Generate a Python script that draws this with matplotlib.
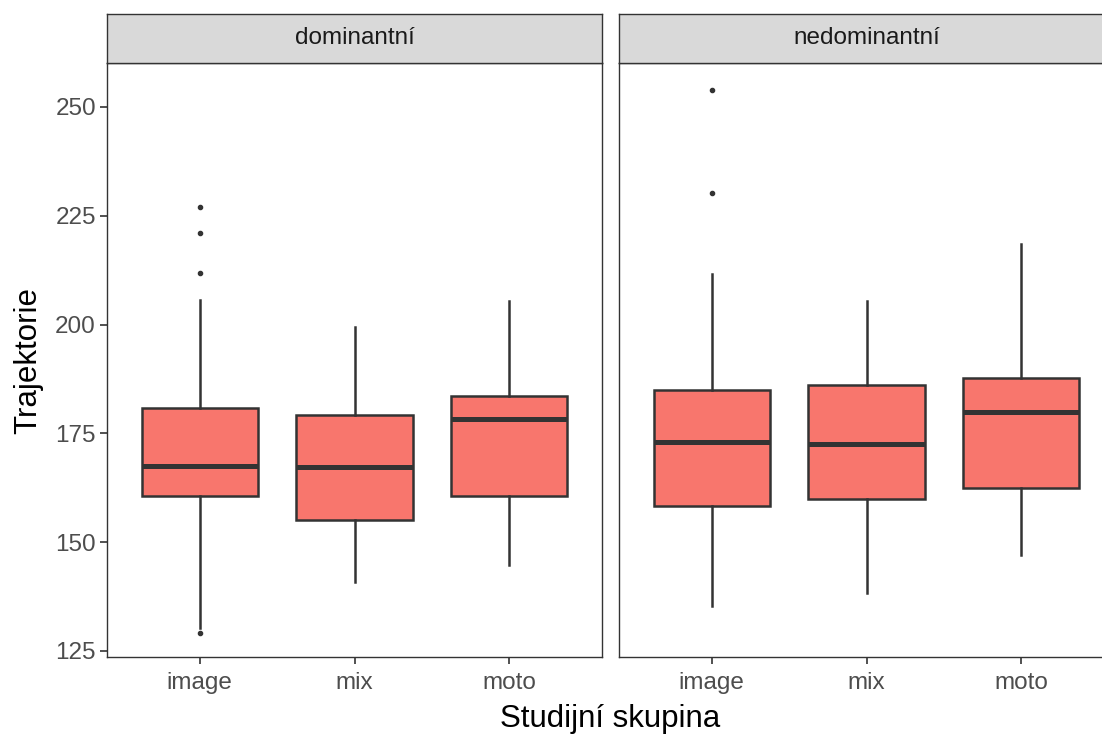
import matplotlib
matplotlib.use("Agg")
import matplotlib.pyplot as plt

plt.rcParams['font.family'] = ['Liberation Sans', 'DejaVu Sans']

# skupiny a panely
groups = ['image', 'mix', 'moto']
panels = ['dominantní', 'nedominantní']

# souhrnne statistiky (whislo, q1, med, q3, whishi)
dom_whislo = [130.2, 140.9, 144.8]
dom_q1 = [160.5, 155.1, 160.5]
dom_med = [167.5, 167.3, 178.3]
dom_q3 = [180.9, 179.3, 183.5]
dom_whishi = [205.7, 199.5, 205.4]
dom_fliers = [[227.1, 221.0, 211.9, 129.2], [], []]

ned_whislo = [135.3, 138.4, 147.0]
ned_q1 = [158.2, 159.8, 162.4]
ned_med = [172.9, 172.5, 179.8]
ned_q3 = [184.9, 186.0, 187.8]
ned_whishi = [211.6, 205.3, 218.5]
ned_fliers = [[254.0, 230.3], [], []]

yticks = [125, 150, 175, 200, 225, 250]

fill = '#F8766D'
dark = '#333333'
W, H = 1102, 734


def make_stats(whislo, q1, med, q3, whishi, fliers):
    return [dict(label=g, whislo=whislo[i], q1=q1[i], med=med[i], q3=q3[i],
                 whishi=whishi[i], fliers=fliers[i]) for i, g in enumerate(groups)]


data = [make_stats(dom_whislo, dom_q1, dom_med, dom_q3, dom_whishi, dom_fliers),
        make_stats(ned_whislo, ned_q1, ned_med, ned_q3, ned_whishi, ned_fliers)]

fig = plt.figure(figsize=(W / 100, H / 100), dpi=100)

panel_left = [107, 619]
panel_w = 495
top, bottom = 63, 657
strip_top = 14

for k, (name, stats) in enumerate(zip(panels, data)):
    ax = fig.add_axes([panel_left[k] / W, 1 - bottom / H, panel_w / W, (bottom - top) / H])
    ax.bxp(stats, positions=[1, 2, 3], widths=0.75, patch_artist=True, showcaps=False,
           boxprops=dict(facecolor=fill, edgecolor=dark, linewidth=1.8),
           whiskerprops=dict(color=dark, linewidth=1.8),
           medianprops=dict(color=dark, linewidth=3.6, solid_capstyle='butt'),
           flierprops=dict(marker='o', markersize=3, markerfacecolor=dark,
                           markeredgecolor=dark, linestyle='none'))
    ax.set_xlim(0.4, 3.6)
    ax.set_ylim(123.6, 260.1)
    ax.set_xticks([1, 2, 3])
    ax.set_xticklabels(groups)
    ax.set_yticks(yticks)
    ax.tick_params(axis='both', colors=dark, length=5, width=1.2, labelsize=17.5,
                   labelcolor='#4D4D4D', pad=3)
    ax.tick_params(axis='x', pad=5.5)
    if k == 1:
        ax.tick_params(axis='y', left=False, labelleft=False)
    for s in ax.spines.values():
        s.set_color(dark)
        s.set_linewidth(1.0)
    ax.grid(False)

    sx = fig.add_axes([panel_left[k] / W, 1 - top / H, panel_w / W, (top - strip_top) / H])
    sx.set_facecolor('#D9D9D9')
    sx.set_xticks([])
    sx.set_yticks([])
    for s in sx.spines.values():
        s.set_color(dark)
        s.set_linewidth(1.0)
    sx.text(0.5, 0.5, name, ha='center', va='center', fontsize=17.5, color='#1A1A1A',
            transform=sx.transAxes)

fig.text((107 + 619 + panel_w) / 2 / W, 1 - 719 / H, 'Studijní skupina', ha='center',
         va='center', fontsize=22.5, color='black')
fig.text(28 / W, 1 - 361 / H, 'Trajektorie', ha='center', va='center', rotation=90,
         fontsize=22.5, color='black')

fig.savefig('out.png', dpi=100, facecolor='white')
